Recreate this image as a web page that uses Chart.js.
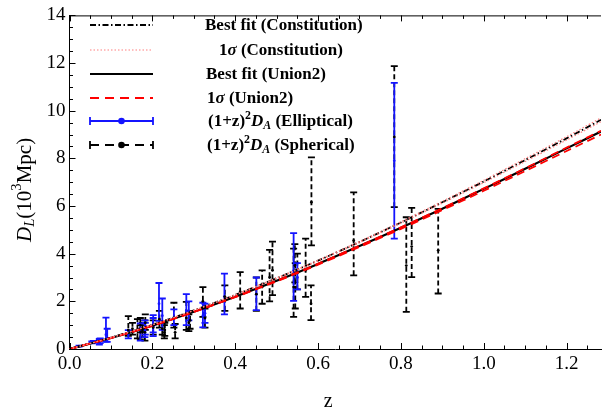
<!DOCTYPE html>
<html>
<head>
<meta charset="utf-8">
<script src="https://cdn.jsdelivr.net/npm/chart.js@4.4.1/dist/chart.umd.min.js"></script>
<style>
html, body { margin: 0; padding: 0; background: #fff; }
#wrap { width: 605px; height: 416px; position: relative; }
</style>
</head>
<body>
<div id="wrap"><canvas id="chart"></canvas></div>
<script>
// fitted curves, D_L in 10^3 Mpc
const zCurve = [0, 0.1, 0.2, 0.3, 0.4, 0.5, 0.6, 0.7, 0.8, 0.9, 1.0, 1.1, 1.2, 1.283];
const constBest = [0, 0.475, 1.015, 1.62, 2.27, 2.97, 3.71, 4.49, 5.31, 6.16, 7.03, 7.93, 8.84, 9.62];
const constLow = [0, 0.473, 1.011, 1.612, 2.26, 2.955, 3.69, 4.465, 5.28, 6.12, 6.98, 7.87, 8.77, 9.54];
const constHigh = [0, 0.477, 1.019, 1.628, 2.28, 2.985, 3.73, 4.515, 5.34, 6.20, 7.08, 7.99, 8.91, 9.70];
const unionBest = [0, 0.46, 0.98, 1.56, 2.19, 2.86, 3.57, 4.32, 5.09, 5.89, 6.72, 7.56, 8.42, 9.13];
const unionLow = [0, 0.458, 0.975, 1.55, 2.175, 2.84, 3.54, 4.28, 5.04, 5.83, 6.64, 7.47, 8.31, 9.00];
const unionHigh = [0, 0.462, 0.983, 1.565, 2.195, 2.87, 3.58, 4.335, 5.105, 5.91, 6.74, 7.585, 8.45, 9.16];

// (1+z)^2 D_A, elliptical model
const zEll = [0.023, 0.054, 0.058, 0.072, 0.074, 0.088, 0.091, 0.142, 0.171, 0.182, 0.183, 0.202, 0.202,
    0.216, 0.224, 0.252, 0.282, 0.288, 0.322, 0.327, 0.374, 0.451, 0.541, 0.550, 0.784];
const ellMid = [0.12, 0.28, 0.30, 0.30, 0.35, 0.60, 0.45, 0.60, 0.70, 0.80, 0.90, 0.95, 1.00,
    1.90, 1.40, 1.30, 1.60, 1.60, 1.40, 1.50, 2.20, 2.30, 3.30, 3.00, 7.90];
const ellLow = [0.10, 0.24, 0.26, 0.18, 0.25, 0.31, 0.30, 0.45, 0.35, 0.50, 0.60, 0.54, 0.70,
    1.18, 0.80, 1.00, 1.00, 1.20, 0.91, 1.10, 1.45, 1.63, 2.02, 2.50, 4.63];
const ellHigh = [0.14, 0.32, 0.34, 0.42, 0.45, 1.32, 0.85, 0.79, 1.07, 1.20, 1.10, 1.42, 1.30,
    2.77, 2.12, 1.66, 2.30, 2.00, 1.94, 1.90, 3.16, 3.00, 4.86, 3.60, 11.17];

// (1+z)^2 D_A, spherical model
const zSph = [0.142, 0.152, 0.164, 0.171, 0.171, 0.176, 0.182, 0.183, 0.202, 0.217, 0.224, 0.229, 0.230,
    0.252, 0.255, 0.282, 0.288, 0.291, 0.322, 0.327, 0.375, 0.412, 0.451, 0.465, 0.483, 0.490,
    0.541, 0.544, 0.545, 0.550, 0.570, 0.583, 0.584, 0.686, 0.784, 0.813, 0.826, 0.890];
const sphMid = [0.80, 0.85, 0.80, 0.70, 1.00, 0.75, 0.70, 1.10, 0.90, 1.25, 0.85, 0.70, 0.80,
    1.30, 0.70, 1.30, 1.10, 1.20, 2.00, 1.30, 2.20, 2.40, 2.30, 2.60, 3.00, 3.30,
    2.60, 3.50, 2.60, 3.20, 3.30, 1.90, 6.16, 4.55, 8.90, 3.50, 4.30, 4.14];
const sphLow = [0.55, 0.60, 0.45, 0.40, 0.70, 0.50, 0.35, 0.80, 0.60, 0.90, 0.60, 0.45, 0.55,
    0.90, 0.45, 0.80, 0.75, 0.85, 1.35, 0.90, 1.60, 1.70, 1.60, 1.90, 2.00, 2.26,
    1.35, 2.80, 1.70, 2.50, 2.19, 1.21, 4.35, 3.09, 5.95, 1.56, 3.02, 2.33];
const sphHigh = [1.38, 1.10, 1.25, 1.00, 1.30, 1.10, 1.20, 1.45, 1.20, 1.60, 1.15, 1.00, 1.10,
    1.94, 1.05, 1.98, 1.45, 1.60, 2.60, 1.70, 2.67, 3.23, 3.00, 3.30, 4.16, 4.51,
    4.21, 4.40, 3.60, 4.00, 4.63, 2.67, 8.04, 6.57, 11.87, 5.53, 5.92, 5.88];

const xTicks = [0, 0.2, 0.4, 0.6, 0.8, 1.0, 1.2];
const yTicks = [0, 2, 4, 6, 8, 10, 12, 14];

const SERIF = '"Liberation Serif", "DejaVu Serif", serif';
const BLUE = '#1414ff';

const pts = (xs, ys) => xs.map((x, i) => ({ x, y: ys[i] }));

const drawBars = (ctx, xs, ys, zs, lo, hi, color, dash) => {
    ctx.save();
    ctx.strokeStyle = color;
    ctx.lineWidth = 1.8;
    zs.forEach((z, i) => {
        const px = xs.getPixelForValue(z);
        const y0 = ys.getPixelForValue(lo[i]);
        const y1 = ys.getPixelForValue(hi[i]);
        ctx.setLineDash(dash);
        ctx.beginPath();
        ctx.moveTo(px, y0);
        ctx.lineTo(px, y1);
        ctx.stroke();
        ctx.setLineDash([]);
        ctx.beginPath();
        ctx.moveTo(px - 3.5, y0); ctx.lineTo(px + 3.5, y0);
        ctx.moveTo(px - 3.5, y1); ctx.lineTo(px + 3.5, y1);
        ctx.stroke();
    });
    ctx.restore();
};

const errorBars = {
    id: 'errorBars',
    beforeDatasetsDraw(chart) {
        const { ctx, scales: { x, y } } = chart;
        drawBars(ctx, x, y, zSph, sphLow, sphHigh, '#000', [5, 3]);
        drawBars(ctx, x, y, zEll, ellLow, ellHigh, BLUE, []);
    }
};

// inward ticks on bottom, top and left, plus top frame line
const frameTicks = {
    id: 'frameTicks',
    afterDraw(chart) {
        const { ctx, chartArea: a, scales: { x, y } } = chart;
        ctx.save();
        ctx.strokeStyle = '#000';
        ctx.lineWidth = 1;
        ctx.beginPath();
        ctx.moveTo(a.left, a.top + 0.5);
        ctx.lineTo(a.right, a.top + 0.5);
        for (let i = 0; i <= 26; i++) {
            const v = i * 0.05;
            if (v > x.max) break;
            const px = Math.round(x.getPixelForValue(v)) + 0.5;
            const len = i % 4 === 0 ? 6 : 3.5;
            ctx.moveTo(px, a.bottom); ctx.lineTo(px, a.bottom - len);
            ctx.moveTo(px, a.top); ctx.lineTo(px, a.top + len);
        }
        for (let i = 0; i <= 28; i++) {
            const py = Math.round(y.getPixelForValue(i * 0.5)) + 0.5;
            const len = i % 4 === 0 ? 6 : 3.5;
            ctx.moveTo(a.left, py); ctx.lineTo(a.left + len, py);
        }
        ctx.stroke();
        ctx.restore();
    }
};

const richText = (ctx, x, y, parts, size) => {
    let cx = x;
    parts.forEach(p => {
        const s = p.sub || p.sup ? size * 0.7 : size;
        ctx.font = `${p.italic ? 'italic ' : ''}${p.bold ? 'bold ' : ''}${s}px ${SERIF}`;
        const dy = p.sup ? -size * 0.38 : p.sub ? size * 0.25 : 0;
        ctx.fillText(p.t, cx, y + dy);
        cx += ctx.measureText(p.t).width;
    });
};

const legendRows = [
    { y: 25, tx: 205, parts: [{ t: 'Best fit (Constitution)', bold: true }] },
    { y: 50, tx: 219, parts: [{ t: '1', bold: true }, { t: 'σ', bold: true, italic: true }, { t: ' (Constitution)', bold: true }] },
    { y: 74, tx: 206, parts: [{ t: 'Best fit (Union2)', bold: true }] },
    { y: 98, tx: 207, parts: [{ t: '1', bold: true }, { t: 'σ', bold: true, italic: true }, { t: ' (Union2)', bold: true }] },
    { y: 121, tx: 208, parts: [{ t: '(1+z)', bold: true }, { t: '2', bold: true, sup: true }, { t: 'D', bold: true, italic: true }, { t: 'A', bold: true, italic: true, sub: true }, { t: ' (Elliptical)', bold: true }] },
    { y: 145, tx: 207, parts: [{ t: '(1+z)', bold: true }, { t: '2', bold: true, sup: true }, { t: 'D', bold: true, italic: true }, { t: 'A', bold: true, italic: true, sub: true }, { t: ' (Spherical)', bold: true }] }
];

const legendAndTitles = {
    id: 'legendAndTitles',
    afterDraw(chart) {
        const { ctx, chartArea: a } = chart;
        ctx.save();
        const x0 = 90, x1 = 153;
        const seg = (y, color, width, dash) => {
            ctx.strokeStyle = color; ctx.lineWidth = width; ctx.setLineDash(dash);
            ctx.beginPath(); ctx.moveTo(x0, y); ctx.lineTo(x1, y); ctx.stroke();
            ctx.setLineDash([]);
        };
        const bar = (y, color, dash) => {
            seg(y, color, 1.8, dash);
            ctx.strokeStyle = color; ctx.lineWidth = 1.8;
            ctx.beginPath();
            ctx.moveTo(x0, y - 4); ctx.lineTo(x0, y + 4);
            ctx.moveTo(x1, y - 4); ctx.lineTo(x1, y + 4);
            ctx.stroke();
            ctx.fillStyle = color;
            ctx.beginPath(); ctx.arc((x0 + x1) / 2, y, 3.3, 0, Math.PI * 2); ctx.fill();
        };
        seg(25, '#000', 1.8, [6, 2.5, 1.5, 2.5]);
        seg(50, '#ff7f7f', 1.2, [1.5, 2]);
        seg(74, '#000', 2.2, []);
        seg(98, '#f00', 1.8, [9, 6]);
        bar(121, BLUE, []);
        bar(145, '#000', [9, 6]);

        ctx.fillStyle = '#000';
        ctx.textBaseline = 'middle';
        legendRows.forEach(r => richText(ctx, r.tx, r.y + 1, r.parts, 17));

        // axis titles
        ctx.font = `20px ${SERIF}`;
        ctx.textAlign = 'center';
        ctx.fillText('z', (a.left + a.right) / 2 - 7, 402);
        ctx.textAlign = 'left';
        ctx.translate(25, 242);
        ctx.rotate(-Math.PI / 2);
        richText(ctx, 0, 0, [
            { t: 'D', italic: true }, { t: 'L', italic: true, sub: true },
            { t: '(10' }, { t: '3', sup: true }, { t: 'Mpc)' }
        ], 21);
        ctx.restore();
    }
};

new Chart(document.getElementById('chart'), {
    type: 'line',
    data: {
        datasets: [
            { label: 'constLow', data: pts(zCurve, constLow), borderColor: '#ff7f7f', borderWidth: 1.2, borderDash: [1.5, 2], pointRadius: 0, tension: 0.3 },
            { label: 'constHigh', data: pts(zCurve, constHigh), borderColor: '#ff7f7f', borderWidth: 1.2, borderDash: [1.5, 2], pointRadius: 0, tension: 0.3 },
            { label: 'unionLow', data: pts(zCurve, unionLow), borderColor: '#f00', borderWidth: 1.8, borderDash: [8, 5], pointRadius: 0, tension: 0.3 },
            { label: 'unionHigh', data: pts(zCurve, unionHigh), borderColor: '#f00', borderWidth: 1.8, borderDash: [8, 5], pointRadius: 0, tension: 0.3 },
            { label: 'Best fit (Union2)', data: pts(zCurve, unionBest), borderColor: '#000', borderWidth: 2.2, pointRadius: 0, tension: 0.3 },
            { label: 'Best fit (Constitution)', data: pts(zCurve, constBest), borderColor: '#000', borderWidth: 1.8, borderDash: [6, 2.5, 1.5, 2.5], pointRadius: 0, tension: 0.3 },
            { label: 'Spherical', data: pts(zSph, sphMid), showLine: false, pointRadius: 1.4, pointBackgroundColor: '#000', pointBorderWidth: 0 },
            { label: 'Elliptical', data: pts(zEll, ellMid), showLine: false, pointRadius: 1.4, pointBackgroundColor: BLUE, pointBorderWidth: 0 }
        ]
    },
    options: {
        responsive: true,
        maintainAspectRatio: false,
        animation: false,
        layout: { padding: { top: 14, right: 0, left: 0, bottom: 0 } },
        plugins: {
            legend: { display: false },
            tooltip: { enabled: false }
        },
        scales: {
            x: {
                type: 'linear',
                min: 0,
                max: 1.283,
                grid: { display: false, drawTicks: false },
                border: { display: true, color: '#000', width: 1 },
                afterBuildTicks: (scale) => { scale.ticks = xTicks.map(value => ({ value })); },
                afterFit: (scale) => { scale.height = 67; },
                ticks: {
                    autoSkip: false,
                    maxRotation: 0,
                    padding: 4,
                    color: '#000',
                    font: { family: SERIF, size: 19 },
                    callback: (value) => Number(value).toFixed(1)
                }
            },
            y: {
                min: 0,
                max: 14,
                grid: { display: false, drawTicks: false },
                border: { display: true, color: '#000', width: 1 },
                afterBuildTicks: (scale) => { scale.ticks = yTicks.map(value => ({ value })); },
                afterFit: (scale) => { scale.width = 69.5; },
                ticks: {
                    autoSkip: false,
                    padding: 4,
                    color: '#000',
                    font: { family: SERIF, size: 19 },
                    callback: (value) => String(value)
                }
            }
        }
    },
    plugins: [errorBars, frameTicks, legendAndTitles]
});
</script>
</body>
</html>
